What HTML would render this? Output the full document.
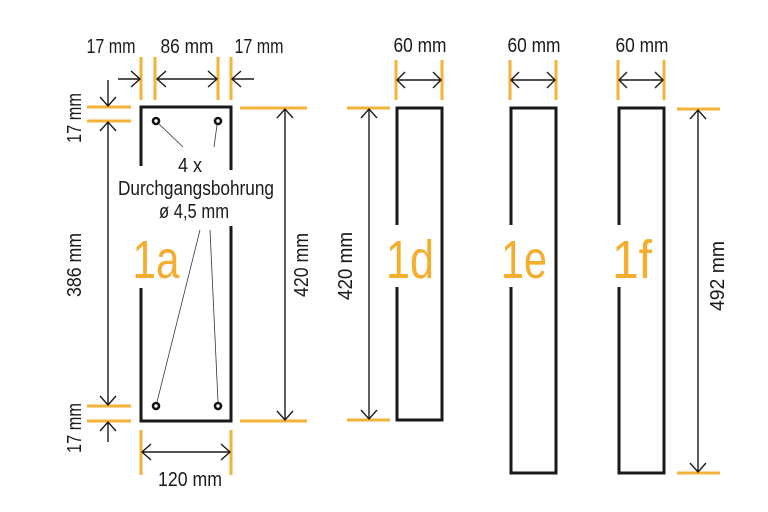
<!DOCTYPE html>
<html><head><meta charset="utf-8"><style>
html,body{margin:0;padding:0;background:#fff;}
svg{display:block;}
text{font-family:"Liberation Sans Narrow","Liberation Sans",sans-serif;}
</style></head><body>
<svg width="768" height="512" viewBox="0 0 768 512" xmlns="http://www.w3.org/2000/svg">
<rect width="768" height="512" fill="#fff"/>
<g fill="none" stroke="#1a1a1a" stroke-width="3">
<rect x="141" y="107" width="90" height="314"/>
<rect x="397" y="108" width="45" height="312"/>
<rect x="511" y="108" width="45" height="365"/>
<rect x="619" y="108" width="45" height="365"/>
</g>
<g fill="#fff">
<rect x="136" y="166" width="10" height="122"/>
<rect x="226" y="170" width="10" height="56"/>
<rect x="392" y="225" width="10" height="62"/>
<rect x="506" y="225" width="10" height="62"/>
<rect x="614" y="225" width="10" height="62"/>
</g>
<g fill="#fff" stroke="#111" stroke-width="2.6">
<circle cx="156" cy="121" r="3"/><circle cx="218" cy="121" r="3"/>
<circle cx="156" cy="406" r="3"/><circle cx="218" cy="406" r="3"/>
</g>
<g stroke="#333" stroke-width="0.8">
<line x1="159" y1="124" x2="183" y2="147"/>
<line x1="217" y1="125" x2="214" y2="147"/>
<line x1="200" y1="230" x2="157" y2="402"/>
<line x1="210" y1="230" x2="218" y2="402"/>
</g>
<g stroke="#f4b237" stroke-width="3">
<line x1="141" y1="57" x2="141" y2="100"/><line x1="155" y1="57" x2="155" y2="100"/>
<line x1="218" y1="57" x2="218" y2="100"/><line x1="231" y1="57" x2="231" y2="100"/>
<line x1="87" y1="107" x2="131" y2="107"/><line x1="87" y1="121" x2="131" y2="121"/>
<line x1="87" y1="406" x2="131" y2="406"/><line x1="87" y1="421" x2="131" y2="421"/>
<line x1="240" y1="108" x2="307" y2="108"/><line x1="240" y1="421" x2="307" y2="421"/>
<line x1="141" y1="430" x2="141" y2="475"/><line x1="231" y1="430" x2="231" y2="475"/>
<line x1="396" y1="60" x2="396" y2="100"/><line x1="442" y1="60" x2="442" y2="100"/>
<line x1="510" y1="60" x2="510" y2="100"/><line x1="556" y1="60" x2="556" y2="100"/>
<line x1="618" y1="60" x2="618" y2="100"/><line x1="664" y1="60" x2="664" y2="100"/>
<line x1="347" y1="108" x2="390" y2="108"/><line x1="347" y1="420" x2="390" y2="420"/>
<line x1="677" y1="109" x2="720" y2="109"/><line x1="677" y1="473" x2="720" y2="473"/>
</g>
<g stroke="#1a1a1a" stroke-width="1.4" fill="none">
<line x1="118" y1="79" x2="140" y2="79"/><path d="M131 71 L140 79 L131 87"/>
<line x1="157" y1="79" x2="217" y2="79"/><path d="M166 71 L157 79 L166 87 M208 71 L217 79 L208 87"/>
<line x1="232" y1="79" x2="254" y2="79"/><path d="M241 71 L232 79 L241 87"/>
<line x1="108" y1="80" x2="108" y2="106"/><path d="M100 97 L108 106 L116 97"/>
<line x1="108" y1="122" x2="108" y2="405"/><path d="M100 131 L108 122 L116 131 M100 396 L108 405 L116 396"/>
<line x1="108" y1="422" x2="108" y2="442"/><path d="M100 431 L108 422 L116 431"/>
<line x1="285" y1="109" x2="285" y2="420"/><path d="M277 118 L285 109 L293 118 M277 411 L285 420 L293 411"/>
<line x1="142" y1="452" x2="230" y2="452"/><path d="M151 444 L142 452 L151 460 M221 444 L230 452 L221 460"/>
<line x1="397" y1="80" x2="441" y2="80"/><path d="M405 72 L397 80 L405 88 M433 72 L441 80 L433 88"/>
<line x1="511" y1="80" x2="555" y2="80"/><path d="M519 72 L511 80 L519 88 M547 72 L555 80 L547 88"/>
<line x1="619" y1="80" x2="663" y2="80"/><path d="M627 72 L619 80 L627 88 M655 72 L663 80 L655 88"/>
<line x1="369" y1="109" x2="369" y2="419"/><path d="M361 118 L369 109 L377 118 M361 410 L369 419 L377 410"/>
<line x1="698" y1="110" x2="698" y2="472"/><path d="M690 119 L698 110 L706 119 M690 463 L698 472 L706 463"/>
</g>
<g fill="#1a1a1a" font-size="20" lengthAdjust="spacingAndGlyphs">
<text x="111" y="53" text-anchor="middle" textLength="49" lengthAdjust="spacingAndGlyphs">17 mm</text>
<text x="187" y="53" text-anchor="middle" textLength="53" lengthAdjust="spacingAndGlyphs">86 mm</text>
<text x="259" y="53" text-anchor="middle" textLength="49" lengthAdjust="spacingAndGlyphs">17 mm</text>
<text x="420" y="52" text-anchor="middle" textLength="53" lengthAdjust="spacingAndGlyphs">60 mm</text>
<text x="534" y="52" text-anchor="middle" textLength="53" lengthAdjust="spacingAndGlyphs">60 mm</text>
<text x="642" y="52" text-anchor="middle" textLength="53" lengthAdjust="spacingAndGlyphs">60 mm</text>
<text x="190" y="172" text-anchor="middle" textLength="24" lengthAdjust="spacingAndGlyphs">4 x</text>
<text x="196" y="195" text-anchor="middle" textLength="156" lengthAdjust="spacingAndGlyphs">Durchgangsbohrung</text>
<text x="194" y="218" text-anchor="middle" textLength="70" lengthAdjust="spacingAndGlyphs">ø 4,5 mm</text>
<text x="190" y="486" text-anchor="middle" textLength="64" lengthAdjust="spacingAndGlyphs">120 mm</text>
<text transform="translate(81,118) rotate(-90)" text-anchor="middle" textLength="50" lengthAdjust="spacingAndGlyphs">17 mm</text>
<text transform="translate(81,265) rotate(-90)" text-anchor="middle" textLength="64" lengthAdjust="spacingAndGlyphs">386 mm</text>
<text transform="translate(81,428) rotate(-90)" text-anchor="middle" textLength="50" lengthAdjust="spacingAndGlyphs">17 mm</text>
<text transform="translate(308,265) rotate(-90)" text-anchor="middle" textLength="64" lengthAdjust="spacingAndGlyphs">420 mm</text>
<text transform="translate(352,266) rotate(-90)" text-anchor="middle" textLength="68" lengthAdjust="spacingAndGlyphs">420 mm</text>
<text transform="translate(724,276) rotate(-90)" text-anchor="middle" textLength="70" lengthAdjust="spacingAndGlyphs">492 mm</text>
</g>
<g fill="#f4ad2c" font-size="54">
<text x="156" y="278" text-anchor="middle" textLength="47" lengthAdjust="spacingAndGlyphs">1a</text>
<text x="410" y="278" text-anchor="middle" textLength="48" lengthAdjust="spacingAndGlyphs">1d</text>
<text x="524" y="278" text-anchor="middle" textLength="46" lengthAdjust="spacingAndGlyphs">1e</text>
<text x="632" y="278" text-anchor="middle" textLength="40" lengthAdjust="spacingAndGlyphs">1f</text>
</g>
</svg>
</body></html>
